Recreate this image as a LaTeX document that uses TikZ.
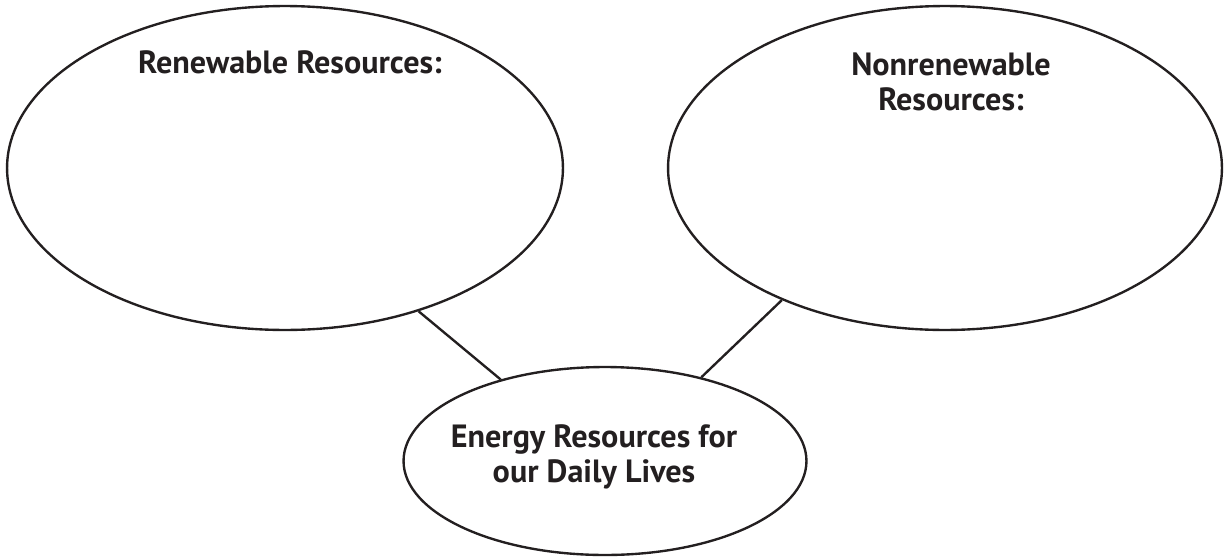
\documentclass[tikz,border=0pt]{standalone}
\usepackage{fontspec}
\setsansfont{PT Sans}
\usetikzlibrary{shapes.geometric, positioning}
\definecolor{inkgray}{HTML}{231F20}
\tikzset{
  bubble/.style={ellipse, draw=inkgray, line width=1.35pt, inner sep=0pt},
  heading/.style={text=inkgray, font=\fontsize{18.3}{20.2}\selectfont\sffamily\bfseries, align=center},
  link/.style={draw=inkgray, line width=1.35pt}
}

\begin{document}
\begin{tikzpicture}[x=0.02cm, y=-0.02cm]
    \useasboundingbox (0,0) rectangle (1229,558);

    % three bubbles
    \node (renewable) [bubble, minimum width=11.12cm, minimum height=6.48cm] at (285,168) {};
    \node (nonrenewable) [bubble, minimum width=11.08cm, minimum height=6.48cm] at (945,168) {};
    \node (daily) [bubble, minimum width=8.06cm, minimum height=3.76cm] at (605,461) {};

    % headings
    \node (renewtext) [heading, anchor=base] at (290,73) {Renewable Resources:};
    \node (nonrenewtext) [heading] at (951,82) {Nonrenewable\\ Resources:};
    \node (dailytext) [heading] at (594,457) {Energy Resources for\\ our Daily Lives};

    % connectors
    \draw [link] (renewable.-47.7) -- (daily.142);
    \draw [link] (nonrenewable.-141.8) -- (daily.41);
\end{tikzpicture}
\end{document}
